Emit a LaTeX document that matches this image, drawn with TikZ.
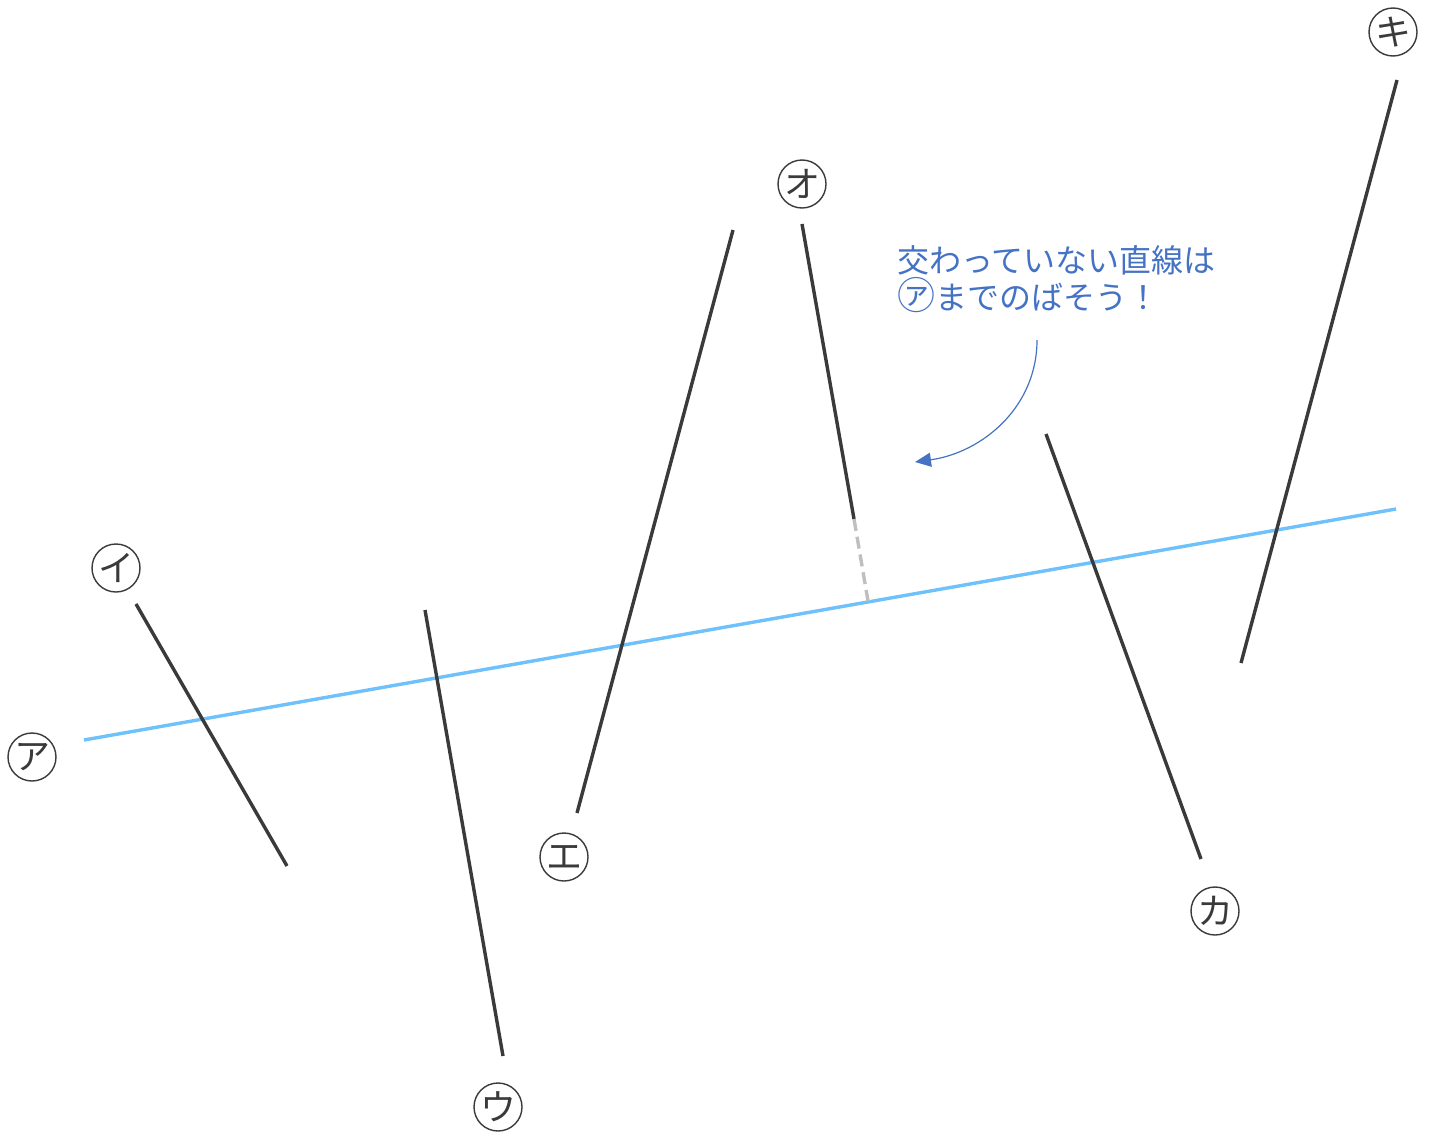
\documentclass[tikz,border=0pt]{standalone}
\usepackage{fontspec}
\newfontfamily\jp{Noto Sans CJK JP}
\usepackage{xcolor}
\usetikzlibrary{arrows.meta}
\definecolor{seg}{HTML}{3A3A3A}
\definecolor{lineA}{HTML}{6EC1FA}
\definecolor{note}{HTML}{4472C4}

\begin{document}
\begin{tikzpicture}[x=0.5pt, y=-0.5pt, >={Triangle[length=8pt, width=7pt]},
		lbl/.style={circle, draw=seg, line width=0.7pt, minimum size=24pt, inner sep=0pt, font=\jp\fontsize{18}{18}\selectfont, text=seg},
		segline/.style={draw=seg, line width=1.7pt}]
		\useasboundingbox (0,0) rectangle (1434,1135);

		% labels
		\node[lbl] (a) at (32,757) {ア};
		\node[lbl] (i) at (116,568) {イ};
		\node[lbl] (u) at (498,1107) {ウ};
		\node[lbl] (e) at (564,857) {エ};
		\node[lbl] (o) at (802,184) {オ};
		\node[lbl] (ka) at (1215,911) {カ};
		\node[lbl] (ki) at (1393,32) {キ};

		% line ends
		\coordinate (a1) at (84,740);   \coordinate (a2) at (1396,509);
		\coordinate (i1) at (136,604);  \coordinate (i2) at (287,866);
		\coordinate (u1) at (425,610);  \coordinate (u2) at (503,1056);
		\coordinate (e1) at (577,813);  \coordinate (e2) at (733,230);
		\coordinate (o1) at (802,224);  \coordinate (o2) at (854,519);
		\coordinate (o3) at (868,601);
		\coordinate (ka1) at (1046,434); \coordinate (ka2) at (1201,859);
		\coordinate (ki1) at (1397,80); \coordinate (ki2) at (1241,663);

		\draw[draw=lineA, line width=1.7pt] (a1) -- (a2);
		\path[segline] (i1) -- (i2);
		\path[segline] (u1) -- (u2);
		\path[segline] (e1) -- (e2);
		\path[segline] (o1) -- (o2);
		\draw[draw=black!25, line width=1.7pt, dash pattern=on 6pt off 3pt] (o2) -- (o3);
		\path[segline] (ka1) -- (ka2);
		\path[segline] (ki1) -- (ki2);

		% note
		\node[anchor=north west, align=left, inner sep=0pt, text=note, font=\jp\fontsize{16}{18.5}\selectfont] (txt) at (897,245)
			{交わっていない直線は\\{\fontsize{19}{18.5}\selectfont ㋐}までのばそう！};
		\coordinate (arrS) at (1037,340);
		\coordinate (arrE) at (915,462);
		\draw[->, draw=note, line width=0.6pt] (arrS) to[out=-90, in=8] (arrE);
	\end{tikzpicture}
\end{document}
